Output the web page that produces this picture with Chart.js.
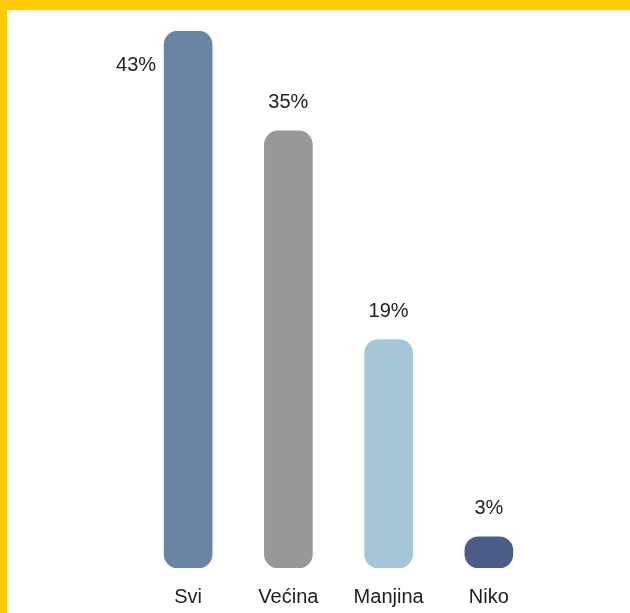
<!DOCTYPE html>
<html>
<head>
<meta charset="utf-8">
<script src="https://cdn.jsdelivr.net/npm/chart.js@4/dist/chart.umd.min.js"></script>
<style>
  html, body { margin: 0; padding: 0; background: #fff; }
  #frame {
    position: absolute; left: 0; top: 0;
    width: 630px; height: 613px;
    box-sizing: border-box;
    border-top: 10px solid #FFCB08;
    border-left: 7px solid #FFCB08;
    background: #fff;
  }
  #chart { display: block; }
</style>
</head>
<body>
<div id="frame">
  <canvas id="chart" width="623" height="603"></canvas>
</div>
<script>
const categories = ['Svi', 'Većina', 'Manjina', 'Niko'];
const shares = [43, 35, 18.3, 2.5];          // bar heights
const shareLabels = ['43%', '35%', '19%', '3%']; // printed values
const barColors = ['#6A84A5', '#989897', '#A4C6D6', '#4A5D88'];

// draws the percentage above each bar (or left of it when there is no room)
const valueLabels = {
  id: 'valueLabels',
  afterDatasetsDraw(chart) {
    const ctx = chart.ctx;
    const meta = chart.getDatasetMeta(0);
    ctx.save();
    ctx.font = '20px "Liberation Sans", Arial, sans-serif';
    ctx.fillStyle = '#222';
    ctx.textBaseline = 'middle';
    meta.data.forEach((bar, i) => {
      const y = bar.y - 28;
      if (y < chart.chartArea.top + 5) {
        ctx.textAlign = 'right';
        ctx.fillText(shareLabels[i], bar.x - bar.width / 2 - 8, bar.y + 34);
      } else {
        ctx.textAlign = 'center';
        ctx.fillText(shareLabels[i], bar.x, y);
      }
    });
    ctx.restore();
  }
};

new Chart(document.getElementById('chart').getContext('2d'), {
  type: 'bar',
  data: {
    labels: categories,
    datasets: [{
      data: shares,
      backgroundColor: barColors,
      borderRadius: 14,
      borderSkipped: false,
      barThickness: 48
    }]
  },
  options: {
    responsive: false,
    animation: false,
    layout: { padding: { left: 131, right: 91, top: 21, bottom: 0 } },
    scales: {
      x: {
        grid: { display: false, drawTicks: false },
        border: { display: false },
        afterFit(scale) { scale.height = 45; },
        ticks: {
          padding: 17,
          color: '#222',
          font: { size: 20, family: '"Liberation Sans", Arial, sans-serif' }
        }
      },
      y: {
        display: false,
        min: 0,
        max: 43
      }
    },
    plugins: {
      legend: { display: false },
      tooltip: { enabled: false }
    }
  },
  plugins: [valueLabels]
});
</script>
</body>
</html>
